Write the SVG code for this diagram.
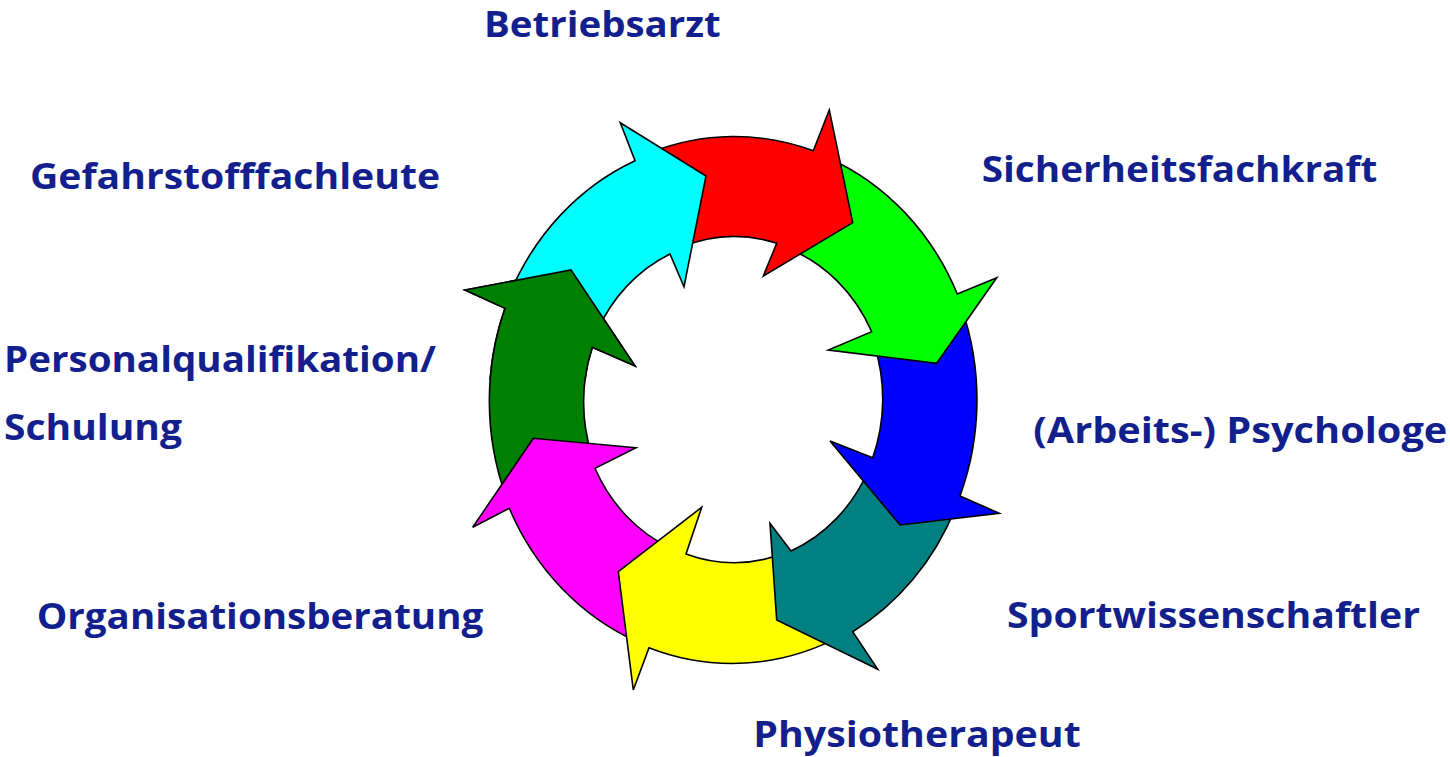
<svg xmlns="http://www.w3.org/2000/svg" xmlns:xlink="http://www.w3.org/1999/xlink" width="1450" height="757" viewBox="0 0 1450 757">
  <style>
    .arrow { stroke: #000000; stroke-width: 1.6; stroke-linejoin: miter; }
    .lbl { font-family: "Open Sans", "Liberation Sans", sans-serif; font-weight: bold; font-size: 36px; fill: #121F8C; }
  </style>
  <defs>
    <clipPath id="clipDG">
      <rect x="440" y="240" width="220" height="140"/>
    </clipPath>
  </defs>
  <rect width="1450" height="757" fill="#ffffff"/>

  <g id="node-personalqualifikation">
    <path id="a-dkgreen" class="arrow" fill="#008000" d="M 505.5,495.1 A 244 263 0 0 1 505,308.3 L 465,290 L 571,270 L 635,366 L 592.3,347.3 A 150 163 0 0 0 592.0,455.7 Z"/>
    <text class="lbl" x="4" y="371.7" textLength="432" lengthAdjust="spacingAndGlyphs">Personalqualifikation/</text>
    <text class="lbl" x="4" y="440" textLength="178" lengthAdjust="spacingAndGlyphs">Schulung</text>
  </g>
  <g id="node-organisationsberatung">
    <path class="arrow" fill="#FF00FF" d="M 637.7,642.1 A 244 263 0 0 1 509.3,508.3 L 472.7,527.3 L 533.3,438.3 L 636,447.7 L 595,468.3 A 150 163 0 0 0 670.8,548.3 Z"/>
    <text class="lbl" x="36.7" y="629.3" textLength="446.6" lengthAdjust="spacingAndGlyphs">Organisationsberatung</text>
  </g>
  <g id="node-physiotherapeut">
    <path class="arrow" fill="#FFFF00" d="M 840.0,636.4 A 244 263 0 0 1 649,647.7 L 633.3,690 L 618.3,571.7 L 701.7,507.3 L 686,554 A 150 163 0 0 0 781.8,554.1 Z"/>
    <text class="lbl" x="753.3" y="746.7" textLength="327.4" lengthAdjust="spacingAndGlyphs">Physiotherapeut</text>
  </g>
  <g id="node-sportwissenschaftler">
    <path class="arrow" fill="#008080" d="M 955.0,509.1 A 244 263 0 0 1 852.7,631.7 L 877.7,669.3 L 776.7,620 L 770,523.3 L 791,551 A 150 163 0 0 0 868.4,470.2 Z"/>
    <text class="lbl" x="1007" y="627.5" textLength="413" lengthAdjust="spacingAndGlyphs">Sportwissenschaftler</text>
  </g>
  <g id="node-psychologe">
    <path class="arrow" fill="#0000FF" d="M 961.6,307.9 A 244 263 0 0 1 960,496 L 999.3,513.3 L 900,525 L 830,441 L 872.7,457.7 A 150 163 0 0 0 874.4,345.6 Z"/>
    <text class="lbl" x="1033.3" y="443.3" textLength="414" lengthAdjust="spacingAndGlyphs">(Arbeits-) Psychologe</text>
  </g>
  <g id="node-sicherheitsfachkraft">
    <path class="arrow" fill="#00FF00" d="M 828.3,157.9 A 244 263 0 0 1 957.3,294 L 996.7,277.7 L 936.7,363.3 L 828.3,350 L 871.7,331.7 A 150 163 0 0 0 789.2,248.9 Z"/>
    <text class="lbl" x="981.7" y="182.3" textLength="395.6" lengthAdjust="spacingAndGlyphs">Sicherheitsfachkraft</text>
  </g>
  <g id="node-betriebsarzt">
    <path class="arrow" fill="#FF0000" d="M 649.6,152.9 A 244 263 0 0 1 813.3,150.7 L 829.3,110 L 852.7,222.7 L 763.3,276 L 776.7,243.3 A 150 163 0 0 0 680.5,247.3 Z"/>
    <text class="lbl" x="484" y="37.3" textLength="236.7" lengthAdjust="spacingAndGlyphs">Betriebsarzt</text>
  </g>
  <g id="node-gefahrstofffachleute">
    <path class="arrow" fill="#00FFFF" d="M 510.1,293.0 A 244 263 0 0 1 635,160.7 L 620.3,122.7 L 706,176 L 684,286.7 L 670,254 A 150 163 0 0 0 596.5,332.4 Z"/>
    <text class="lbl" x="30" y="189.3" textLength="410" lengthAdjust="spacingAndGlyphs">Gefahrstofffachleute</text>
  </g>
  <g id="connectors">
    <use href="#a-dkgreen" xlink:href="#a-dkgreen" clip-path="url(#clipDG)"/>
  </g>
</svg>
